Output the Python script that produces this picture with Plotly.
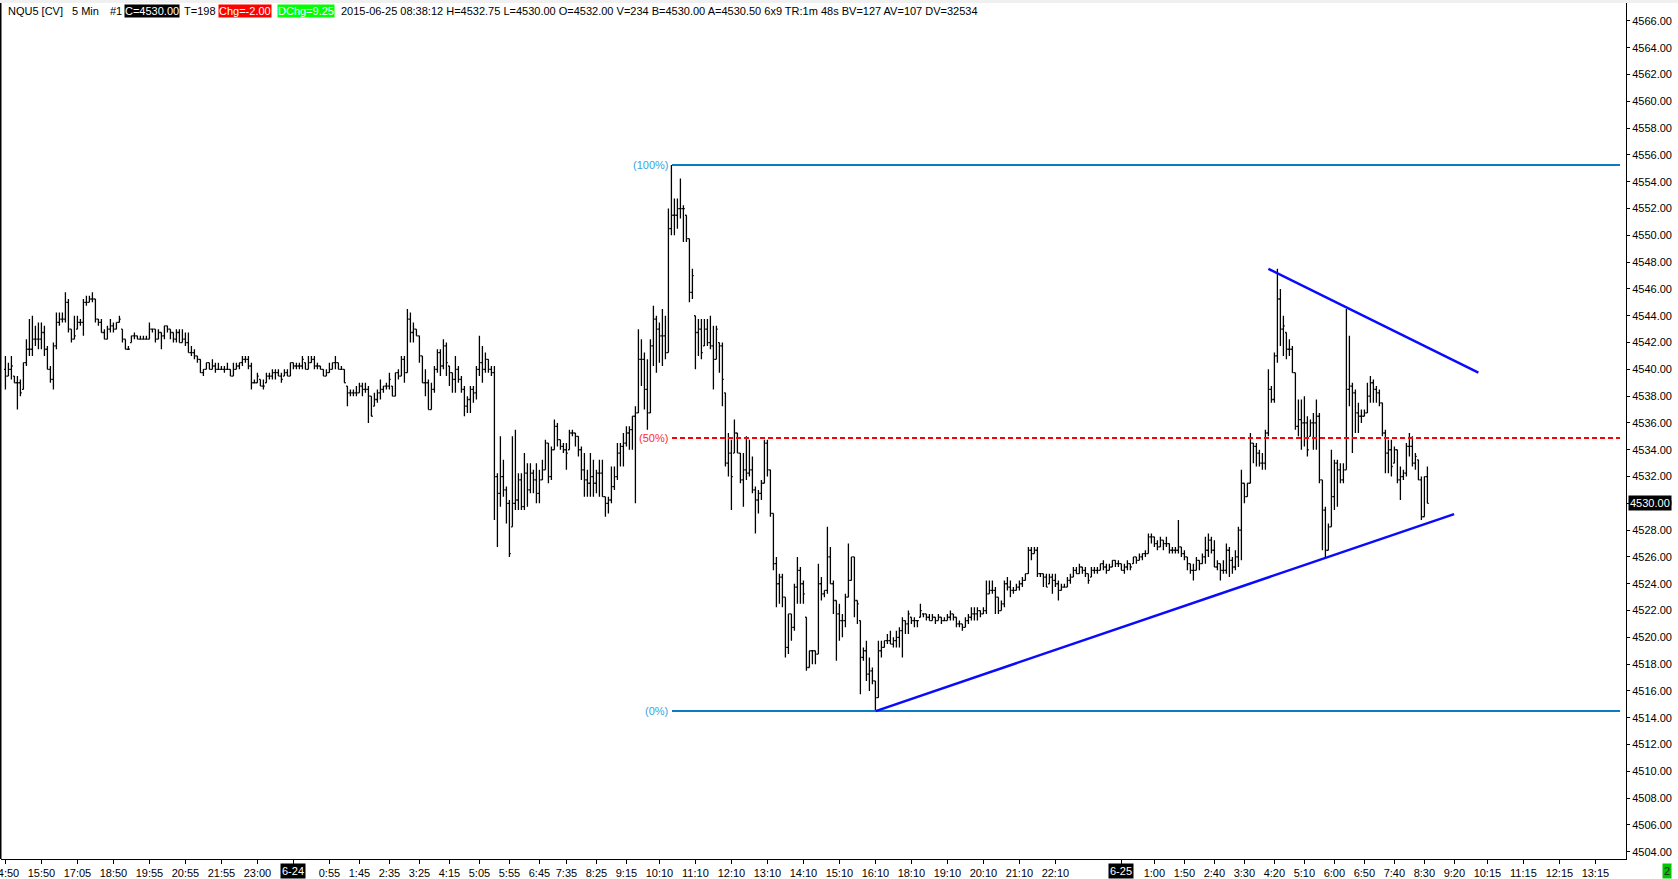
import plotly.graph_objects as go

# NQU5 5 min bars (bar index 0 = first bar on the left)
opens = [
    4540.0, 4539.5, 4540.0, 4539.5, 4539.0, 4539.0, 4538.5, 4540.5, 4541.5, 4541.5,
    4542.25, 4542.25, 4542.25, 4542.75, 4541.5, 4540.0, 4539.25, 4541.75, 4543.5, 4543.75,
    4543.75, 4545.0, 4543.0, 4542.25, 4543.0, 4543.5, 4543.5, 4545.0, 4545.0, 4545.25,
    4545.25, 4543.75, 4543.5, 4542.75, 4542.25, 4543.0, 4543.25, 4543.0, 4543.5, 4543.0,
    4542.25, 4541.5, 4542.0, 4542.5, 4542.5, 4542.25, 4542.25, 4542.25, 4542.25, 4543.0,
    4543.0, 4542.25, 4542.75, 4542.5, 4543.25, 4543.0, 4542.75, 4542.25, 4542.75, 4542.0,
    4542.25, 4542.0, 4541.25, 4541.25, 4541.0, 4540.75, 4539.75, 4540.0, 4540.5, 4540.0,
    4540.25, 4540.0, 4540.0, 4540.0, 4540.0, 4540.0, 4539.5, 4540.0, 4540.25, 4540.5,
    4540.75, 4540.75, 4540.25, 4539.0, 4539.0, 4539.25, 4538.75, 4539.0, 4539.5, 4539.5,
    4539.75, 4539.75, 4539.5, 4539.5, 4539.75, 4539.5, 4540.5, 4540.25, 4540.25, 4540.25,
    4540.5, 4540.0, 4540.5, 4540.75, 4540.25, 4540.25, 4540.0, 4539.5, 4539.75, 4540.0,
    4540.5, 4540.5, 4540.0, 4540.0, 4538.75, 4538.25, 4538.25, 4538.25, 4538.25, 4538.75,
    4538.5, 4538.5, 4538.0, 4537.25, 4537.75, 4538.25, 4538.5, 4538.75, 4538.75, 4538.75,
    4538.0, 4539.75, 4539.5, 4540.75, 4539.75, 4543.75, 4542.75, 4543.0, 4542.5, 4541.0,
    4539.0, 4539.0, 4537.0, 4538.5, 4540.0, 4541.25, 4540.25, 4541.75, 4540.25, 4539.75,
    4539.25, 4540.0, 4539.25, 4538.5, 4537.25, 4537.75, 4538.5, 4538.25, 4540.0, 4540.5,
    4540.0, 4540.75, 4540.0, 4539.75, 4532.0, 4530.75, 4532.0, 4531.0, 4530.0, 4528.25,
    4530.0, 4530.25, 4531.75, 4529.75, 4532.25, 4531.0, 4532.25, 4531.75, 4530.75, 4531.75,
    4532.5, 4534.5, 4532.0, 4534.0, 4535.75, 4534.75, 4534.25, 4534.0, 4534.0, 4535.25,
    4535.25, 4535.0, 4534.0, 4532.5, 4531.75, 4531.5, 4532.0, 4531.5, 4532.25, 4532.25,
    4530.5, 4530.0, 4530.25, 4531.25, 4532.0, 4533.75, 4534.25, 4534.5, 4535.25, 4535.5,
    4536.5, 4536.75, 4540.75, 4540.75, 4538.5, 4536.75, 4541.75, 4543.75, 4543.0, 4542.5,
    4542.5, 4541.25, 4550.5, 4551.5, 4551.5, 4552.0, 4552.0, 4551.5, 4549.75, 4545.75,
    4544.0, 4542.75, 4543.0, 4541.75, 4543.0, 4542.0, 4541.75, 4540.75, 4542.0, 4541.75,
    4538.25, 4533.0, 4533.75, 4533.75, 4535.25, 4533.75, 4531.75, 4532.5, 4532.25, 4532.5,
    4531.0, 4530.25, 4530.75, 4531.5, 4534.5, 4532.5, 4529.25, 4525.5, 4524.0, 4524.5,
    4523.0, 4519.25, 4521.75, 4520.75, 4523.75, 4525.0, 4524.0, 4521.5, 4517.75, 4519.0,
    4519.0, 4518.75, 4524.0, 4523.25, 4523.5, 4526.0, 4524.0, 4522.75, 4521.75, 4521.25,
    4521.25, 4523.0, 4524.25, 4526.0, 4522.75, 4521.25, 4518.5, 4519.0, 4517.25, 4517.5,
    4516.75, 4515.5, 4519.0, 4519.25, 4519.75, 4519.75, 4519.5, 4519.75, 4520.0, 4520.5,
    4521.25, 4521.0, 4521.5, 4521.25, 4521.25, 4521.5, 4521.75, 4521.75, 4521.5, 4521.25,
    4521.5, 4521.25, 4521.5, 4521.25, 4521.25, 4521.5, 4521.75, 4521.5, 4521.0, 4521.0,
    4520.75, 4521.25, 4521.5, 4521.75, 4521.75, 4522.0, 4521.75, 4522.0, 4523.25, 4523.5,
    4523.5, 4523.0, 4522.0, 4522.5, 4524.0, 4523.75, 4523.5, 4523.5, 4523.75, 4524.0,
    4524.25, 4524.75, 4526.5, 4526.25, 4526.5, 4524.75, 4524.75, 4524.5, 4524.0, 4524.5,
    4524.25, 4524.0, 4523.5, 4523.75, 4523.75, 4524.25, 4524.5, 4525.0, 4524.75, 4525.25,
    4525.0, 4524.75, 4524.5, 4525.0, 4525.0, 4525.0, 4525.5, 4525.25, 4525.0, 4525.25,
    4525.75, 4525.5, 4525.5, 4525.0, 4525.25, 4525.5, 4525.5, 4526.0, 4525.75, 4526.0,
    4526.25, 4526.25, 4527.5, 4527.5, 4527.0, 4526.75, 4527.25, 4527.0, 4527.0, 4526.5,
    4526.5, 4526.5, 4526.75, 4526.25, 4526.0, 4525.5, 4525.0, 4525.0, 4525.75, 4525.5,
    4526.0, 4526.5, 4527.25, 4526.5, 4525.25, 4525.5, 4525.0, 4525.0, 4526.5, 4525.75,
    4525.25, 4526.0, 4528.0, 4531.5, 4530.5, 4531.5, 4534.5, 4534.25, 4533.75, 4533.0,
    4533.0, 4535.25, 4538.5, 4537.75, 4541.0, 4545.25, 4543.0, 4542.75, 4541.5, 4541.5,
    4539.75, 4535.75, 4536.25, 4536.0, 4536.0, 4535.0, 4536.0, 4536.0, 4536.5, 4531.75,
    4529.5, 4526.5, 4528.25, 4530.5, 4533.0, 4532.5, 4531.75, 4532.5, 4538.5, 4538.75,
    4538.25, 4536.75, 4536.5, 4536.5, 4536.75, 4538.0, 4539.0, 4538.5, 4538.25, 4537.5,
    4535.25, 4533.75, 4534.0, 4533.0, 4534.0, 4531.75, 4532.0, 4532.25, 4534.25, 4534.25,
    4533.0, 4533.25, 4531.75, 4529.0, 4532.0,
]
highs = [
    4541.0, 4540.5, 4541.0, 4539.5, 4539.5, 4539.25, 4540.5, 4542.25, 4543.75, 4544.0,
    4543.25, 4543.5, 4543.5, 4543.25, 4541.75, 4540.25, 4542.0, 4544.25, 4544.25, 4544.25,
    4545.75, 4545.25, 4543.0, 4544.0, 4544.0, 4543.75, 4545.25, 4545.5, 4545.5, 4545.75,
    4545.25, 4543.75, 4543.75, 4543.0, 4543.25, 4543.75, 4543.5, 4543.5, 4544.0, 4543.0,
    4542.25, 4541.75, 4542.5, 4542.75, 4542.5, 4542.5, 4542.5, 4542.5, 4543.5, 4543.0,
    4543.0, 4543.0, 4542.75, 4543.25, 4543.25, 4543.0, 4542.75, 4543.0, 4543.0, 4543.0,
    4542.75, 4542.75, 4541.75, 4541.5, 4541.0, 4540.75, 4540.0, 4540.5, 4540.5, 4540.75,
    4540.5, 4540.5, 4540.25, 4540.25, 4540.5, 4540.0, 4540.5, 4540.5, 4540.5, 4541.0,
    4541.0, 4541.0, 4540.5, 4539.25, 4539.75, 4539.25, 4539.25, 4539.75, 4539.75, 4540.0,
    4540.0, 4540.0, 4539.75, 4540.0, 4540.0, 4540.5, 4540.5, 4540.5, 4540.5, 4541.0,
    4540.5, 4541.0, 4541.0, 4541.0, 4540.5, 4540.25, 4540.0, 4540.0, 4540.5, 4540.5,
    4541.0, 4540.5, 4540.25, 4540.0, 4538.75, 4538.5, 4538.5, 4538.75, 4539.0, 4539.0,
    4539.0, 4538.75, 4538.0, 4538.25, 4538.5, 4539.25, 4538.75, 4539.0, 4539.75, 4538.75,
    4539.75, 4540.0, 4541.0, 4541.0, 4544.5, 4544.25, 4543.5, 4543.0, 4542.5, 4541.0,
    4540.0, 4539.25, 4539.0, 4540.25, 4541.5, 4541.5, 4542.25, 4542.0, 4540.25, 4539.75,
    4541.0, 4540.25, 4539.5, 4538.75, 4538.0, 4538.75, 4538.75, 4540.25, 4542.5, 4541.75,
    4541.25, 4540.75, 4540.25, 4540.25, 4532.25, 4535.0, 4533.25, 4531.25, 4530.25, 4535.0,
    4535.5, 4532.25, 4532.25, 4533.75, 4533.0, 4533.0, 4532.5, 4533.0, 4532.5, 4533.25,
    4534.75, 4534.5, 4534.25, 4536.25, 4536.0, 4534.75, 4534.5, 4534.5, 4535.5, 4535.5,
    4535.25, 4535.0, 4534.25, 4533.75, 4532.5, 4533.75, 4533.25, 4532.5, 4533.25, 4533.25,
    4530.5, 4530.5, 4532.75, 4532.75, 4534.5, 4534.5, 4535.25, 4535.75, 4535.75, 4536.5,
    4537.25, 4543.0, 4542.25, 4541.25, 4540.75, 4542.25, 4544.75, 4544.0, 4543.5, 4544.5,
    4544.0, 4552.0, 4555.25, 4552.75, 4552.75, 4554.25, 4552.25, 4551.5, 4549.75, 4547.5,
    4544.0, 4543.75, 4543.75, 4543.75, 4543.75, 4544.0, 4543.25, 4543.25, 4542.0, 4542.0,
    4538.25, 4535.25, 4534.75, 4536.25, 4535.25, 4533.75, 4533.75, 4535.0, 4534.75, 4533.5,
    4531.25, 4531.0, 4531.75, 4534.75, 4534.75, 4532.5, 4529.25, 4526.0, 4524.75, 4524.75,
    4523.0, 4521.75, 4521.75, 4524.0, 4526.0, 4525.25, 4524.25, 4521.5, 4519.0, 4519.0,
    4519.0, 4525.5, 4524.5, 4523.5, 4528.25, 4526.75, 4524.25, 4522.75, 4522.5, 4521.75,
    4523.25, 4527.0, 4526.0, 4526.0, 4522.75, 4521.25, 4519.25, 4519.75, 4518.5, 4517.75,
    4516.75, 4519.75, 4519.75, 4519.75, 4520.25, 4520.5, 4520.0, 4520.5, 4520.75, 4521.5,
    4521.25, 4522.0, 4521.5, 4521.5, 4521.25, 4522.5, 4521.75, 4521.75, 4521.75, 4521.75,
    4521.5, 4521.75, 4521.5, 4521.5, 4521.75, 4522.0, 4521.75, 4521.5, 4521.25, 4521.0,
    4521.5, 4521.75, 4522.25, 4522.25, 4522.25, 4522.0, 4522.25, 4524.25, 4524.25, 4524.25,
    4523.75, 4523.0, 4522.75, 4524.25, 4524.5, 4524.25, 4523.75, 4524.0, 4524.25, 4524.5,
    4524.75, 4526.75, 4526.75, 4526.75, 4526.75, 4524.75, 4524.75, 4524.75, 4524.75, 4524.75,
    4524.75, 4524.25, 4524.0, 4524.0, 4524.5, 4524.75, 4525.25, 4525.25, 4525.5, 4525.25,
    4525.25, 4524.75, 4525.25, 4525.25, 4525.25, 4525.5, 4525.75, 4525.5, 4525.5, 4525.75,
    4525.75, 4525.75, 4525.5, 4525.5, 4525.75, 4525.5, 4526.0, 4526.0, 4526.25, 4526.25,
    4526.5, 4527.75, 4527.75, 4527.5, 4527.25, 4527.5, 4527.25, 4527.5, 4527.0, 4526.75,
    4526.75, 4528.75, 4526.75, 4526.5, 4526.0, 4525.5, 4525.5, 4526.0, 4525.75, 4526.25,
    4527.5, 4527.75, 4527.5, 4527.25, 4525.75, 4525.5, 4525.75, 4527.0, 4526.75, 4526.0,
    4526.5, 4528.25, 4532.5, 4531.5, 4531.5, 4535.25, 4534.5, 4534.5, 4534.0, 4533.75,
    4535.5, 4540.0, 4538.75, 4541.25, 4547.5, 4546.0, 4544.0, 4542.75, 4542.25, 4541.75,
    4539.75, 4537.75, 4537.75, 4538.0, 4536.5, 4536.25, 4536.75, 4537.75, 4536.75, 4531.75,
    4529.75, 4528.5, 4534.0, 4533.25, 4533.25, 4533.0, 4533.0, 4544.5, 4542.5, 4539.0,
    4538.5, 4537.5, 4537.0, 4537.0, 4539.0, 4539.5, 4539.25, 4538.75, 4538.5, 4537.5,
    4535.5, 4534.75, 4534.75, 4534.25, 4534.0, 4532.75, 4532.5, 4534.5, 4535.25, 4535.0,
    4533.75, 4533.25, 4532.0, 4532.0, 4532.75,
]
lows = [
    4538.5, 4539.5, 4539.25, 4539.0, 4537.0, 4538.0, 4538.5, 4540.25, 4541.0, 4541.0,
    4541.75, 4541.5, 4541.5, 4541.0, 4540.0, 4539.0, 4538.5, 4541.5, 4543.25, 4543.5,
    4543.5, 4542.75, 4542.0, 4542.25, 4543.0, 4543.25, 4542.5, 4544.75, 4545.0, 4545.0,
    4543.5, 4543.25, 4542.75, 4542.25, 4542.25, 4542.75, 4542.75, 4543.0, 4543.5, 4542.0,
    4541.5, 4541.5, 4542.0, 4542.25, 4542.25, 4542.25, 4542.25, 4542.25, 4542.25, 4542.75,
    4542.0, 4542.25, 4541.5, 4542.25, 4542.75, 4542.25, 4542.0, 4542.0, 4542.0, 4542.0,
    4541.75, 4541.25, 4541.0, 4540.75, 4540.5, 4539.75, 4539.5, 4540.0, 4540.0, 4540.0,
    4539.75, 4540.0, 4540.0, 4539.75, 4540.0, 4539.5, 4539.5, 4540.0, 4540.0, 4540.25,
    4540.5, 4540.0, 4538.5, 4539.0, 4539.0, 4538.75, 4538.5, 4539.0, 4539.25, 4539.25,
    4539.25, 4539.5, 4539.0, 4539.5, 4539.5, 4539.5, 4540.0, 4540.0, 4540.0, 4540.0,
    4540.0, 4540.0, 4540.5, 4540.0, 4540.0, 4540.0, 4539.5, 4539.5, 4539.75, 4540.0,
    4540.0, 4540.0, 4540.0, 4539.0, 4537.25, 4538.0, 4538.0, 4538.0, 4538.25, 4538.0,
    4538.25, 4536.0, 4536.5, 4537.25, 4537.5, 4537.75, 4538.25, 4538.5, 4538.5, 4538.0,
    4538.0, 4539.25, 4539.5, 4539.0, 4539.75, 4542.0, 4542.0, 4542.5, 4540.5, 4539.0,
    4538.0, 4537.0, 4537.0, 4538.25, 4539.75, 4539.5, 4540.0, 4539.5, 4538.75, 4538.25,
    4538.25, 4539.0, 4538.25, 4536.5, 4536.75, 4536.75, 4537.5, 4537.75, 4539.5, 4539.0,
    4539.75, 4539.75, 4539.5, 4528.75, 4526.75, 4529.75, 4530.5, 4528.5, 4526.0, 4528.25,
    4529.5, 4529.5, 4529.5, 4529.5, 4529.75, 4530.75, 4530.75, 4530.0, 4530.0, 4531.75,
    4532.5, 4531.5, 4531.75, 4534.0, 4534.25, 4534.0, 4533.75, 4532.5, 4534.0, 4535.0,
    4534.25, 4533.5, 4531.75, 4530.5, 4530.5, 4530.5, 4530.5, 4530.75, 4530.5, 4530.5,
    4529.0, 4529.25, 4530.0, 4531.0, 4531.75, 4532.75, 4532.75, 4534.25, 4534.0, 4534.0,
    4530.0, 4536.75, 4538.75, 4537.0, 4535.5, 4536.75, 4540.25, 4539.75, 4540.5, 4540.25,
    4540.75, 4541.25, 4550.0, 4550.0, 4550.5, 4551.25, 4549.5, 4549.5, 4545.0, 4545.25,
    4540.0, 4541.0, 4540.75, 4541.75, 4541.75, 4541.5, 4538.5, 4540.75, 4539.75, 4537.25,
    4532.75, 4532.0, 4529.5, 4533.75, 4533.75, 4531.5, 4529.75, 4531.75, 4532.0, 4530.75,
    4527.75, 4529.25, 4530.25, 4531.5, 4532.0, 4529.0, 4525.0, 4522.25, 4522.5, 4522.25,
    4518.5, 4518.75, 4519.75, 4520.5, 4522.5, 4522.5, 4522.5, 4517.5, 4517.75, 4518.0,
    4518.0, 4518.75, 4522.75, 4523.0, 4523.25, 4524.0, 4521.75, 4518.25, 4519.75, 4520.0,
    4520.75, 4523.0, 4524.25, 4521.5, 4521.0, 4515.75, 4518.25, 4516.75, 4516.0, 4516.5,
    4514.5, 4515.5, 4518.5, 4519.25, 4519.5, 4519.5, 4519.25, 4519.25, 4519.25, 4518.5,
    4520.25, 4520.25, 4521.0, 4520.75, 4520.75, 4521.5, 4521.5, 4521.25, 4521.25, 4521.25,
    4521.0, 4521.25, 4521.0, 4521.25, 4521.25, 4521.25, 4521.25, 4520.75, 4520.75, 4520.5,
    4520.75, 4521.0, 4521.25, 4521.25, 4521.25, 4521.5, 4521.75, 4521.75, 4523.25, 4523.25,
    4521.75, 4521.75, 4522.0, 4522.25, 4523.5, 4523.0, 4523.25, 4523.5, 4523.5, 4523.75,
    4524.25, 4524.75, 4525.75, 4526.25, 4524.5, 4524.5, 4523.75, 4523.75, 4524.0, 4523.25,
    4523.75, 4522.75, 4523.5, 4523.75, 4523.75, 4524.0, 4524.5, 4524.75, 4524.75, 4524.75,
    4524.5, 4524.0, 4524.5, 4524.75, 4524.75, 4525.0, 4525.0, 4524.75, 4525.0, 4525.25,
    4525.25, 4525.25, 4525.0, 4524.75, 4525.0, 4525.0, 4525.5, 4525.5, 4525.75, 4525.75,
    4526.0, 4526.25, 4527.0, 4526.75, 4526.5, 4526.75, 4526.5, 4526.75, 4526.25, 4526.25,
    4526.25, 4526.25, 4526.0, 4525.75, 4525.0, 4524.75, 4524.25, 4525.0, 4525.0, 4525.5,
    4525.5, 4526.0, 4526.25, 4525.25, 4525.0, 4524.25, 4524.75, 4524.75, 4524.5, 4524.75,
    4525.0, 4525.25, 4525.75, 4530.0, 4530.5, 4531.5, 4533.0, 4532.75, 4532.75, 4532.5,
    4532.5, 4535.0, 4537.5, 4537.5, 4540.5, 4541.75, 4541.0, 4540.75, 4541.0, 4539.75,
    4535.5, 4535.0, 4534.0, 4534.25, 4533.5, 4535.0, 4534.0, 4534.0, 4531.5, 4526.5,
    4526.0, 4526.5, 4528.25, 4529.5, 4529.75, 4531.5, 4531.5, 4532.5, 4537.25, 4533.75,
    4535.25, 4535.25, 4536.0, 4536.5, 4536.75, 4537.5, 4537.5, 4537.5, 4537.25, 4535.0,
    4532.25, 4532.25, 4532.0, 4533.0, 4531.5, 4530.25, 4531.75, 4532.0, 4533.5, 4532.75,
    4532.5, 4531.75, 4528.75, 4529.0, 4530.0,
]
closes = [
    4539.5, 4540.0, 4540.25, 4539.0, 4539.0, 4538.25, 4540.5, 4541.5, 4541.5, 4542.25,
    4542.25, 4542.25, 4542.75, 4541.5, 4540.0, 4539.25, 4541.75, 4543.5, 4543.75, 4543.75,
    4545.0, 4543.0, 4542.25, 4542.5, 4543.5, 4543.5, 4545.0, 4545.0, 4545.25, 4545.25,
    4543.75, 4543.5, 4542.75, 4542.25, 4543.0, 4543.25, 4543.0, 4543.5, 4543.75, 4542.25,
    4541.5, 4541.5, 4542.5, 4542.5, 4542.25, 4542.25, 4542.25, 4542.25, 4543.0, 4543.0,
    4542.25, 4542.75, 4542.5, 4543.25, 4543.0, 4542.75, 4542.25, 4542.75, 4542.0, 4542.25,
    4542.0, 4541.25, 4541.25, 4541.0, 4540.75, 4539.75, 4540.0, 4540.5, 4540.0, 4540.25,
    4540.0, 4540.0, 4540.0, 4540.0, 4540.0, 4539.5, 4540.0, 4540.25, 4540.5, 4540.75,
    4540.75, 4540.25, 4539.0, 4539.0, 4539.5, 4538.75, 4538.75, 4539.5, 4539.5, 4539.75,
    4539.75, 4539.5, 4539.25, 4539.75, 4539.5, 4540.5, 4540.25, 4540.25, 4540.25, 4540.75,
    4540.0, 4540.5, 4540.75, 4540.25, 4540.25, 4540.0, 4539.5, 4539.75, 4540.0, 4540.5,
    4540.5, 4540.0, 4540.0, 4539.0, 4538.25, 4538.25, 4538.25, 4538.25, 4538.75, 4538.5,
    4538.5, 4538.0, 4536.5, 4537.75, 4538.25, 4538.5, 4538.75, 4538.75, 4539.25, 4538.0,
    4539.75, 4539.5, 4540.75, 4539.75, 4543.75, 4542.75, 4543.0, 4542.5, 4541.0, 4539.0,
    4539.0, 4537.0, 4538.5, 4540.0, 4541.25, 4540.25, 4541.75, 4540.5, 4539.75, 4539.25,
    4540.0, 4539.25, 4538.5, 4537.25, 4537.75, 4538.5, 4538.25, 4540.0, 4540.5, 4540.0,
    4540.75, 4540.0, 4539.75, 4532.0, 4530.75, 4532.0, 4531.0, 4530.0, 4526.25, 4530.0,
    4530.25, 4531.75, 4529.75, 4532.25, 4531.0, 4532.25, 4531.75, 4530.75, 4531.75, 4532.5,
    4534.5, 4532.0, 4534.0, 4535.75, 4534.75, 4534.25, 4534.0, 4533.75, 4535.25, 4535.25,
    4535.0, 4534.0, 4532.5, 4531.75, 4531.5, 4532.0, 4531.5, 4532.25, 4532.25, 4530.5,
    4530.0, 4530.25, 4531.25, 4532.0, 4533.75, 4534.25, 4534.5, 4535.25, 4535.5, 4536.5,
    4536.75, 4540.75, 4540.75, 4538.5, 4536.75, 4541.75, 4543.75, 4543.0, 4542.5, 4542.5,
    4541.25, 4550.5, 4551.5, 4551.5, 4552.0, 4552.0, 4552.0, 4549.75, 4545.75, 4547.0,
    4542.75, 4543.0, 4541.25, 4543.0, 4542.0, 4541.75, 4540.75, 4543.0, 4541.75, 4539.25,
    4533.0, 4533.75, 4532.0, 4535.25, 4533.75, 4531.75, 4532.5, 4532.25, 4532.5, 4531.0,
    4530.25, 4530.75, 4531.5, 4534.5, 4532.5, 4529.25, 4525.5, 4524.0, 4524.5, 4523.0,
    4519.25, 4521.75, 4520.75, 4523.75, 4525.0, 4524.0, 4523.25, 4517.75, 4519.0, 4519.0,
    4518.75, 4524.0, 4523.25, 4523.5, 4526.0, 4524.0, 4522.75, 4521.75, 4521.25, 4521.25,
    4523.0, 4524.25, 4526.0, 4522.75, 4522.5, 4518.5, 4519.0, 4517.25, 4517.5, 4516.75,
    4515.5, 4519.0, 4519.25, 4519.75, 4519.75, 4519.5, 4519.75, 4520.0, 4520.5, 4521.25,
    4521.0, 4521.75, 4521.25, 4521.25, 4521.25, 4522.0, 4521.75, 4521.5, 4521.25, 4521.5,
    4521.25, 4521.5, 4521.25, 4521.25, 4521.5, 4521.75, 4521.5, 4521.0, 4521.0, 4520.75,
    4521.25, 4521.5, 4521.75, 4521.75, 4522.0, 4521.75, 4522.0, 4523.25, 4523.5, 4523.5,
    4523.0, 4522.0, 4522.5, 4524.0, 4523.75, 4523.5, 4523.5, 4523.75, 4524.0, 4524.25,
    4524.75, 4526.5, 4526.25, 4526.5, 4524.75, 4524.75, 4524.5, 4523.75, 4524.5, 4524.25,
    4524.0, 4523.5, 4523.75, 4523.75, 4524.25, 4524.5, 4525.0, 4524.75, 4525.25, 4525.0,
    4524.75, 4524.25, 4525.0, 4525.0, 4525.0, 4525.5, 4525.25, 4525.0, 4525.25, 4525.75,
    4525.5, 4525.5, 4525.0, 4525.25, 4525.5, 4525.25, 4526.0, 4525.75, 4526.0, 4526.25,
    4526.25, 4527.5, 4527.5, 4527.0, 4526.75, 4527.25, 4527.0, 4527.0, 4526.5, 4526.5,
    4526.5, 4526.75, 4526.25, 4526.0, 4525.5, 4525.0, 4525.0, 4525.75, 4525.5, 4526.0,
    4526.5, 4527.25, 4526.5, 4525.25, 4525.5, 4525.0, 4525.0, 4526.5, 4525.75, 4525.25,
    4526.0, 4528.0, 4531.5, 4530.5, 4531.5, 4534.5, 4534.25, 4533.75, 4533.0, 4533.0,
    4535.25, 4538.5, 4537.75, 4541.0, 4545.25, 4543.0, 4543.25, 4541.5, 4541.5, 4539.75,
    4535.75, 4536.25, 4536.0, 4536.0, 4534.0, 4536.0, 4536.0, 4536.5, 4531.75, 4529.5,
    4526.5, 4528.25, 4530.5, 4533.0, 4532.5, 4531.75, 4532.5, 4538.5, 4538.75, 4538.25,
    4536.75, 4536.5, 4536.5, 4536.75, 4538.0, 4539.0, 4538.5, 4538.25, 4537.5, 4535.25,
    4533.75, 4534.0, 4532.75, 4534.0, 4531.75, 4532.0, 4532.25, 4534.25, 4534.25, 4533.0,
    4533.5, 4531.75, 4529.0, 4532.0, 4530.0,
]

# time axis labels (bar index -> label)
time_tick_pos = [0, 12, 24, 36, 48, 60, 72, 84, 96, 108, 118, 128, 138, 148, 158, 168,
                 178, 187, 197, 207, 218, 230, 242, 254, 266, 278, 290, 302, 314, 326,
                 338, 350, 372, 383, 393, 403, 413, 423, 433, 443, 453, 463, 473, 483,
                 494, 506, 518, 530]
time_tick_text = ["14:50", "15:50", "17:05", "18:50", "19:55", "20:55", "21:55", "23:00",
                  "6-24", "0:55", "1:45", "2:35", "3:25", "4:15", "5:05", "5:55", "6:45",
                  "7:35", "8:25", "9:15", "10:10", "11:10", "12:10", "13:10", "14:10",
                  "15:10", "16:10", "18:10", "19:10", "20:10", "21:10", "22:10", "6-25",
                  "1:00", "1:50", "2:40", "3:30", "4:20", "5:10", "6:00", "6:50", "7:40",
                  "8:30", "9:20", "10:15", "11:15", "12:15", "13:15"]
day_marks = ["6-24", "6-25"]

# drawing tools
fib_high = 4555.25
fib_low = 4514.5
fib_x = [222.2, 538.2]
lower_trend_x = [290.1, 482.9]
lower_trend_y = [4514.5, 4529.2]
upper_trend_x = [421.0, 491.0]
upper_trend_y = [4547.5, 4539.75]

last_price = 4530.00

header_parts = [
    ("NQU5 [CV]", 7, None, "black"),
    ("5 Min", 71, None, "black"),
    ("#1", 109, None, "black"),
    ("C=4530.00", 124, "black", "white"),
    ("T=198", 183, None, "black"),
    ("Chg=-2.00", 218, "#ff0000", "white"),
    ("DChg=9.25", 277, "#00ff00", "white"),
    ("2015-06-25 08:38:12 H=4532.75 L=4530.00 O=4532.00 V=234 B=4530.00 "
     "A=4530.50 6x9 TR:1m 48s BV=127 AV=107 DV=32534", 340, None, "black"),
]

FONT = "Liberation Sans, Arial, sans-serif"
W, H = 1678, 879
M = dict(l=1, r=52, t=3, b=20, autoexpand=False)
PW = W - M["l"] - M["r"]
PH = H - M["t"] - M["b"]


def paper_x(px):
    return (px - M["l"]) / PW


def paper_y(py):
    return (H - M["b"] - py) / PH


fig = go.Figure(go.Ohlc(
    x=list(range(len(closes))),
    open=opens, high=highs, low=lows, close=closes,
    increasing=dict(line=dict(color="black", width=1.3)),
    decreasing=dict(line=dict(color="black", width=1.3)),
    tickwidth=0.45,
    hoverinfo="skip",
    showlegend=False,
))

shapes = []
annotations = []

# fib retracement
fib_mid = (fib_high + fib_low) / 2
for level, color, dash, label, text_color in [
        (fib_high, "#0a7cc4", "solid", "(100%)", "#3d9fdc"),
        (fib_mid, "#ff0000", "5px,3px", "(50%)", "#ff2a2a"),
        (fib_low, "#0a7cc4", "solid", "(0%)", "#3d9fdc")]:
    shapes.append(dict(type="line", xref="x", yref="y", x0=fib_x[0], x1=fib_x[1],
                       y0=level, y1=level, line=dict(color=color, width=2, dash=dash)))
    annotations.append(dict(x=fib_x[0] - 0.8, y=level, xref="x", yref="y", text=label,
                            xanchor="right", yanchor="middle", showarrow=False,
                            font=dict(family=FONT, size=11, color=text_color)))

# trend lines
for xs, ys in [(lower_trend_x, lower_trend_y), (upper_trend_x, upper_trend_y)]:
    shapes.append(dict(type="line", xref="x", yref="y", x0=xs[0], x1=xs[1], y0=ys[0], y1=ys[1],
                       line=dict(color="#0a0aff", width=2.5)))

# frame bits
shapes.append(dict(type="rect", xref="paper", yref="paper", x0=paper_x(0), x1=paper_x(W),
                   y0=1, y1=paper_y(0), line=dict(width=0), fillcolor="#f0f0f0"))
shapes.append(dict(type="line", xref="paper", yref="paper", x0=paper_x(0.5), x1=paper_x(0.5),
                   y0=0, y1=1, line=dict(color="black", width=2)))

# header
for text, px, bg, color in header_parts:
    annotations.append(dict(x=paper_x(px), y=paper_y(11.5), xref="paper", yref="paper",
                            text=text, showarrow=False, xanchor="left", yanchor="middle",
                            bgcolor=bg or "rgba(0,0,0,0)", borderpad=0,
                            font=dict(family=FONT, size=11, color=color)))

# date markers on the time axis
for lbl in day_marks:
    annotations.append(dict(x=time_tick_pos[time_tick_text.index(lbl)], y=paper_y(871),
                            xref="x", yref="paper", text=lbl, showarrow=False,
                            xanchor="center", yanchor="middle", bgcolor="black", borderpad=1,
                            font=dict(family=FONT, size=11, color="white")))

# last price tag and corner box
annotations.append(dict(x=paper_x(1628), y=last_price, xref="paper", yref="y",
                        text=f"{last_price:.2f}", showarrow=False, xanchor="left",
                        yanchor="middle", bgcolor="black", borderpad=1,
                        font=dict(family=FONT, size=11, color="white")))
annotations.append(dict(x=paper_x(1662), y=paper_y(871), xref="paper", yref="paper",
                        text="2", showarrow=False, xanchor="left", yanchor="middle",
                        bgcolor="#00c800", borderpad=1,
                        font=dict(family=FONT, size=11, color="#202020")))

fig.update_layout(
    width=W, height=H,
    margin=M,
    paper_bgcolor="white",
    plot_bgcolor="white",
    showlegend=False,
    shapes=shapes,
    annotations=annotations,
    font=dict(family=FONT, size=11, color="black"),
    xaxis=dict(
        range=[-1.47, 540.2],
        tickmode="array",
        tickvals=time_tick_pos,
        ticktext=["" if t in day_marks else t for t in time_tick_text],
        ticks="outside", ticklen=4, tickcolor="black",
        showline=True, linecolor="black", linewidth=1,
        showgrid=False, zeroline=False,
        rangeslider=dict(visible=False),
        ticklabeloverflow="allow",
        automargin=False,
        tickfont=dict(family=FONT, size=11, color="black"),
    ),
    yaxis=dict(
        side="right",
        range=[4503.46, 4567.34],
        tick0=4504, dtick=2, tickformat=".2f",
        ticks="outside", ticklen=3, tickcolor="black",
        showline=True, linecolor="black", linewidth=1,
        showgrid=False, zeroline=False,
        automargin=False,
        tickfont=dict(family=FONT, size=11, color="black"),
    ),
)

# the page body has a default 8px margin; drop it so the figure fills the window
fig.write_html("out.html", config={"displayModeBar": False},
               post_script="document.body.style.margin='0';"
                           "document.body.style.overflow='hidden';")
